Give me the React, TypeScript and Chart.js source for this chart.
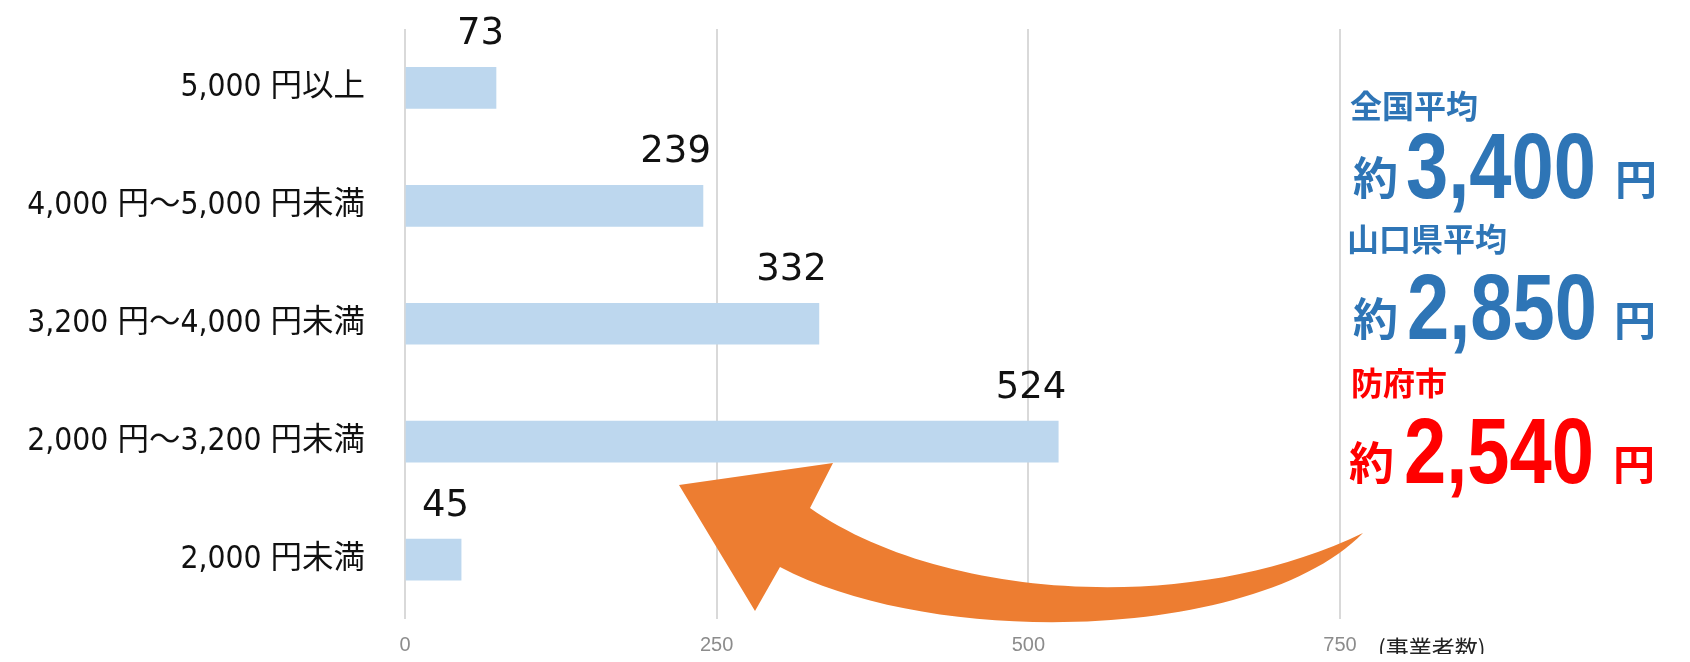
import { useEffect, useRef } from 'react';
import { Chart, registerables } from 'chart.js';

Chart.register(...registerables);

// 客単価帯ごとの事業者数
const categories = [
  '5,000 円以上',
  '4,000 円～5,000 円未満',
  '3,200 円～4,000 円未満',
  '2,000 円～3,200 円未満',
  '2,000 円未満',
];
const counts = [73, 239, 332, 524, 45];
const axisMax = 750;
const axisStep = 250;
const unitLabel = '(事業者数)';

// 平均単価（全国・山口県・防府市）
const averageTitles = ['全国平均', '山口県平均', '防府市'];
const averageYen = [3400, 2850, 2540];

const W = 1674;
const H = 654;

const LABEL_FONT = "'DejaVu Sans Condensed', 'Noto Sans CJK JP', sans-serif";
const JP_FONT = "'Noto Sans CJK JP', sans-serif";
const NUM_FONT = "'Liberation Sans', Arial, sans-serif";

const BLUE = '#2e75b6';
const RED = '#ff0000';

// 棒の先端上に件数を表示
const valueLabels = {
  id: 'valueLabels',
  afterDatasetsDraw(chart: any) {
    const ctx = chart.ctx;
    const meta = chart.getDatasetMeta(0);
    ctx.save();
    ctx.font = "37px 'DejaVu Sans', sans-serif";
    ctx.fillStyle = '#111';
    ctx.textAlign = 'right';
    ctx.textBaseline = 'alphabetic';
    meta.data.forEach((bar: any, i: number) => {
      const { x, y, height } = bar.getProps(['x', 'y', 'height'], true);
      ctx.fillText(String(counts[i]), x + 8, y - height / 2 - 23);
    });
    ctx.restore();
  },
};

// 横方向に詰めた数字を描く
function drawCondensed(ctx: CanvasRenderingContext2D, text: string, x: number, y: number, width: number) {
  const w = ctx.measureText(text).width;
  ctx.save();
  ctx.translate(x, y);
  ctx.scale(width / w, 1);
  ctx.fillText(text, 0, 0);
  ctx.restore();
}

// 右側の平均単価と矢印、単位表示
const annotations = {
  id: 'annotations',
  afterDraw(chart: any) {
    const ctx = chart.ctx;
    const xScale = chart.scales.x;
    ctx.save();

    // 曲線矢印
    ctx.fillStyle = '#ed7d31';
    ctx.beginPath();
    ctx.moveTo(671, 477);
    ctx.lineTo(825, 455);
    ctx.lineTo(802, 500);
    ctx.bezierCurveTo(930, 590, 1180, 610, 1355, 525);
    ctx.bezierCurveTo(1250, 632, 930, 642, 772, 559);
    ctx.lineTo(747, 603);
    ctx.closePath();
    ctx.fill();

    // 単位
    ctx.fillStyle = '#222';
    ctx.font = `23px ${JP_FONT}`;
    ctx.textAlign = 'left';
    ctx.textBaseline = 'middle';
    ctx.fillText(unitLabel, xScale.right + 38, 640);

    // 平均単価ブロック
    const rows = [
      { color: BLUE, titleX: 1342, titleY: 110, yakuX: 1345, numX: 1398, yenX: 1607, base: 190 },
      { color: BLUE, titleX: 1339, titleY: 243, yakuX: 1345, numX: 1399, yenX: 1606, base: 331 },
      { color: RED, titleX: 1343, titleY: 387, yakuX: 1341, numX: 1396, yenX: 1605, base: 475 },
    ];
    ctx.textBaseline = 'alphabetic';
    rows.forEach((r, i) => {
      ctx.fillStyle = r.color;
      ctx.font = `bold 32px ${JP_FONT}`;
      ctx.fillText(averageTitles[i], r.titleX, r.titleY);
      ctx.font = `bold 45px ${JP_FONT}`;
      ctx.fillText('約', r.yakuX, r.base - 3);
      ctx.font = `bold 92px ${NUM_FONT}`;
      drawCondensed(ctx, averageYen[i].toLocaleString('en-US'), r.numX, r.base, 190);
      ctx.font = `bold 42px ${JP_FONT}`;
      ctx.fillText('円', r.yenX, r.base - 3);
    });

    ctx.restore();
  },
};

export default function App() {
  const canvasRef = useRef<HTMLCanvasElement | null>(null);

  useEffect(() => {
    const canvas = canvasRef.current;
    if (!canvas) return;
    const chart = new Chart(canvas, {
      type: 'bar',
      data: {
        labels: categories,
        datasets: [
          {
            data: counts,
            backgroundColor: '#bdd7ee',
            borderWidth: 0,
            barThickness: 41,
          },
        ],
      },
      options: {
        indexAxis: 'y',
        animation: false,
        responsive: false,
        devicePixelRatio: 1,
        layout: { autoPadding: false, padding: { top: 21, right: 342, left: 0, bottom: 0 } },
        plugins: {
          legend: { display: false },
          tooltip: { enabled: false },
        },
        scales: {
          x: {
            min: 0,
            max: axisMax,
            ticks: {
              stepSize: axisStep,
              color: '#8c8c8c',
              font: { family: "'Liberation Sans', sans-serif", size: 20 },
              padding: 15,
            },
            grid: { color: '#d9d9d9', lineWidth: 2, drawTicks: false },
            border: { display: false },
            afterFit: (s: any) => {
              s.height = 43.5;
              s.paddingLeft = 0;
              s.paddingRight = 0;
            },
          },
          y: {
            ticks: {
              color: '#111',
              font: { family: LABEL_FONT, size: 31.5 },
              padding: 40,
            },
            grid: { display: false, drawTicks: false },
            border: { display: false },
            afterFit: (s: any) => {
              s.width = 397;
              s.paddingTop = 0;
              s.paddingBottom = 0;
            },
          },
        },
      },
      plugins: [valueLabels, annotations],
    });
    return () => chart.destroy();
  }, []);

  return (
    <div style={{ width: W, height: H, marginBottom: -8 }}>
      <canvas ref={canvasRef} width={W} height={H} style={{ display: 'block' }} />
    </div>
  );
}
